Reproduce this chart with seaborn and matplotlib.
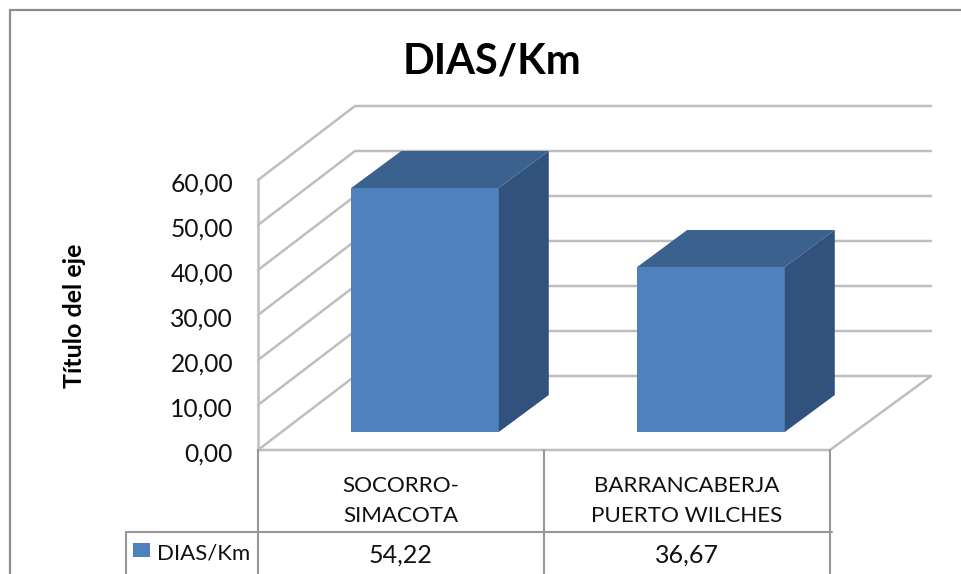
import seaborn as sns
import matplotlib.pyplot as plt
import pandas as pd
from matplotlib.lines import Line2D
from matplotlib.patches import Polygon, Rectangle
from matplotlib.transforms import Affine2D

categories = ["SOCORRO-\nSIMACOTA", "BARRANCABERJA\nPUERTO WILCHES"]
values = [54.22, 36.67]
y_ticks = [0, 10, 20, 30, 40, 50, 60]
series_name = "DIAS/Km"


def comma(v):
    return f"{v:.2f}".replace(".", ",")


df = pd.DataFrame({"Tramo": categories, series_name: values})

sns.set_style("white")
plt.rcParams["font.family"] = ["Lato", "DejaVu Sans"]

W, H = 961, 574
fig = plt.figure(figsize=(W / 100, H / 100), dpi=100)


# pixel position in the picture -> figure fraction
def fx(px):
    return px / W


def fy(py):
    return 1 - py / H


x0, x1, y_top, y_bot = 258, 830, 180, 450
ax = fig.add_axes([fx(x0), fy(y_bot), fx(x1) - fx(x0), fy(y_top) - fy(y_bot)])
ax.patch.set_alpha(0)

sns.barplot(data=df, x="Tramo", y=series_name, color="#4F81BD", saturation=1,
            width=0.516, ax=ax, zorder=3)
ax.set_xlim(-0.5, 1.5)
ax.set_ylim(0, 60)

ux = (x1 - x0) / 2      # pixels per category
uy = (y_bot - y_top) / 60  # pixels per y unit

# 3D offsets, in data units
wall_dx, wall_dy = 97 / ux, 74 / uy
right_dx = 101 / ux
bar_dx, bar_dy = 24 / ux, 18 / uy
side_dx, side_dy = 50 / ux, 37 / uy

grid = "#BEBEBE"
for v in y_ticks:
    ax.plot([-0.5, -0.5 + wall_dx, 1.5 + right_dx], [v, v + wall_dy, v + wall_dy],
            color=grid, lw=1.8, clip_on=False, zorder=1, solid_joinstyle="miter")
ax.plot([-0.5, -0.5], [0, 60], color=grid, lw=1.8, clip_on=False, zorder=1)
ax.plot([-0.5, 1.5, 1.5 + right_dx], [0, 0, wall_dy], color=grid, lw=1.8, clip_on=False, zorder=2)

# move the flat bars into the box and add the top and side faces
for bar in ax.patches[:len(values)]:
    bar.set_x(bar.get_x() + bar_dx)
    bar.set_y(bar_dy)
    bar.set_linewidth(0)
    l, r = bar.get_x(), bar.get_x() + bar.get_width()
    b, t = bar_dy, bar_dy + bar.get_height()
    top = [(l, t), (r, t), (r + side_dx, t + side_dy), (l + side_dx, t + side_dy)]
    side = [(r, b), (r + side_dx, b + side_dy), (r + side_dx, t + side_dy), (r, t)]
    ax.add_patch(Polygon(top, facecolor="#3B618F", edgecolor="none", clip_on=False, zorder=3))
    ax.add_patch(Polygon(side, facecolor="#31527C", edgecolor="none", clip_on=False, zorder=3))

sns.despine(ax=ax, left=True, bottom=True, top=True, right=True)
ax.set_yticks(y_ticks)
ax.set_yticklabels([comma(v) for v in y_ticks], fontsize=17.7, color="#111111")
ax.tick_params(axis="y", length=0, pad=18)
ax.tick_params(axis="x", length=0, pad=19)
for label in ax.get_yticklabels():
    label.set_transform(label.get_transform() + Affine2D().translate(0, -2))
plt.setp(ax.get_xticklabels(), fontsize=16.1, color="#111111", linespacing=1.6)
ax.set_xlabel("")
ax.set_ylabel("")

fig.text(fx(492), fy(62), "DIAS/Km", fontsize=30, fontweight="bold", color="black",
         ha="center", va="center")
fig.text(fx(75), fy(316), "Título del eje", fontsize=18, fontweight="bold", color="black",
         rotation=90, ha="center", va="center")

# chart frame
frame = "#8C8C8C"
fig.add_artist(Line2D([fx(10), fx(10), fx(961)], [fy(574), fy(10), fy(10)],
                      color=frame, lw=1.6, solid_joinstyle="miter"))

# data table under the axis
table = "#979797"
for px, py_start in [(126, 532), (x0, 450), (543.5, 450), (x1, 450)]:
    fig.add_artist(Line2D([fx(px), fx(px)], [fy(py_start), fy(574)], color=table, lw=1.5))
fig.add_artist(Line2D([fx(126), fx(832)], [fy(532), fy(532)], color=table, lw=1.5))

fig.add_artist(Rectangle((fx(133), fy(557)), 17 / W, 14 / H, transform=fig.transFigure,
                         facecolor="#4F81BD", edgecolor="none"))
fig.text(fx(157), fy(553), series_name, fontsize=16, color="#111111", ha="left", va="center")
for i, v in enumerate(values):
    px = ax.transData.transform((i, 0))[0]
    fig.text(px / W, fy(555), comma(v), fontsize=18, color="#111111", ha="center", va="center")

fig.savefig("out.png", dpi=100)
plt.close()
